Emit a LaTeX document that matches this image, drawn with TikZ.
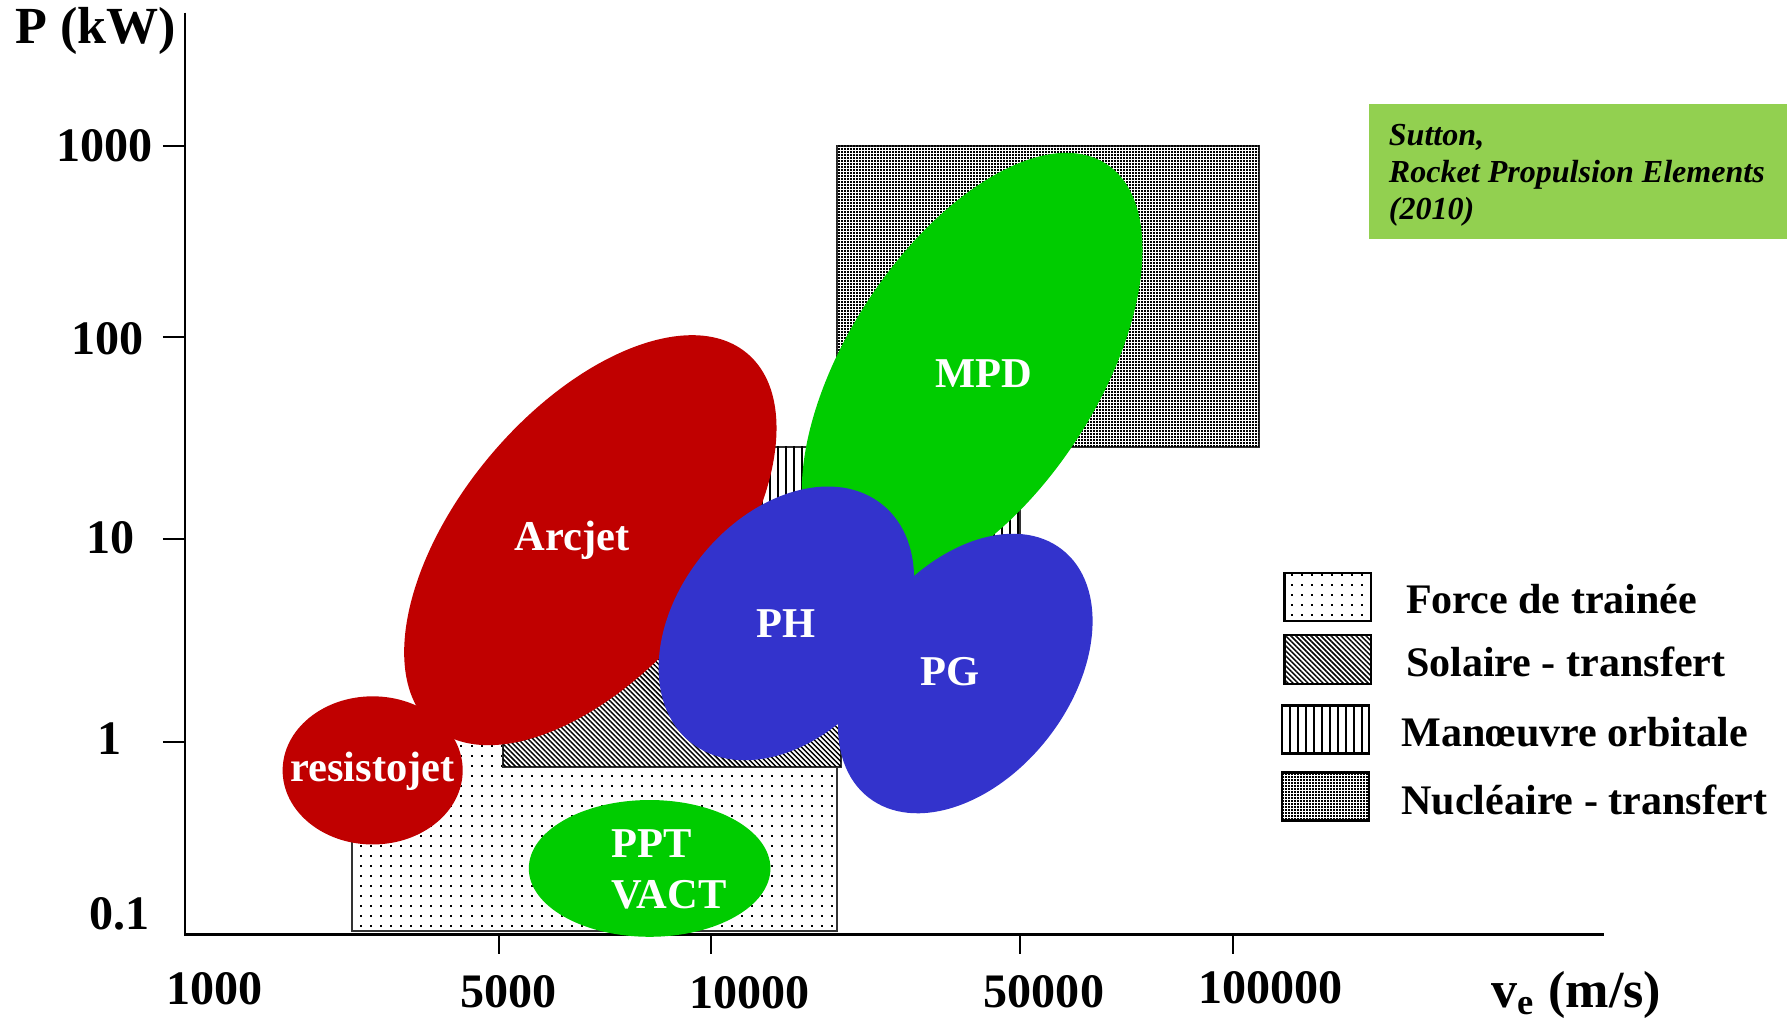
\documentclass[tikz,border=0pt]{standalone}
\usepackage{fontspec}
\setmainfont{Liberation Serif}
\usepackage{tikz}
\usetikzlibrary{patterns}

\definecolor{rouge}{RGB}{192,0,0}
\definecolor{vert}{RGB}{0,204,0}
\definecolor{bleu}{RGB}{51,51,204}
\definecolor{vertclair}{RGB}{146,208,80}

\pgfdeclarepatternformonly{sparse dots}{\pgfqpoint{-1pt}{-1pt}}{\pgfqpoint{2pt}{2pt}}{\pgfqpoint{2.4978pt}{2.4978pt}}{%
	\pgfpathrectangle{\pgfqpoint{0pt}{0pt}}{\pgfqpoint{0.4996pt}{0.4996pt}}\pgfusepath{fill}}
\pgfdeclarepatternformonly{dense dots}{\pgfqpoint{-1pt}{-1pt}}{\pgfqpoint{2pt}{2pt}}{\pgfqpoint{0.7493pt}{0.7493pt}}{%
	\pgfpathrectangle{\pgfqpoint{0pt}{0pt}}{\pgfqpoint{0.4996pt}{0.4996pt}}\pgfusepath{fill}}
\pgfdeclarepatternformonly{fine diagonal}{\pgfqpoint{-1pt}{-1pt}}{\pgfqpoint{2.5pt}{2.5pt}}{\pgfqpoint{1.2489pt}{1.2489pt}}{%
	\pgfsetlinewidth{0.36pt}\pgfpathmoveto{\pgfqpoint{0pt}{1.2489pt}}\pgfpathlineto{\pgfqpoint{1.2489pt}{0pt}}\pgfusepath{stroke}}
\pgfdeclarepatternformonly{fine vertical}{\pgfqpoint{-1pt}{-1pt}}{\pgfqpoint{2pt}{2pt}}{\pgfqpoint{1.9982pt}{1.9982pt}}{%
	\pgfsetlinewidth{0.4996pt}\pgfpathmoveto{\pgfqpoint{0.25pt}{-0.5pt}}\pgfpathlineto{\pgfqpoint{0.25pt}{2.5pt}}\pgfusepath{stroke}}

\begin{document}
\begin{tikzpicture}[x=0.01cm,y=-0.01cm,
		zone/.style={draw=black!80,line width=0.5pt,fill=white,postaction={pattern=#1}},
		echantillon/.style={draw=black,line width=0.6pt,pattern=#1},
		moteur/.style={text=white,font=\fontsize{10.6}{12.8}\selectfont\bfseries},
		valeur/.style={font=\fontsize{12}{14}\selectfont\bfseries},
		titre/.style={font=\fontsize{13}{15}\selectfont\bfseries},
		legende/.style={anchor=base west,inner sep=0pt,font=\fontsize{10.5}{12}\selectfont\bfseries}]
		\useasboundingbox (0,0) rectangle (1568,901);
		\draw[zone=dense dots] (734,128) rectangle (1105,392);
		\draw[zone=fine vertical] (660,392) rectangle (895,520);
		\draw[zone=sparse dots] (309,648) rectangle (734,817);
		\draw[zone=fine diagonal] (441,540) rectangle (738,673);
		\draw[line width=0.55pt] (162,11) -- (162,820) -- (1407,820);
		\foreach \y in {128,296,473,651} \draw[line width=0.55pt] (143,\y) -- (163,\y);
		\foreach \x in {438,624,895,1082} \draw[line width=0.55pt] (\x,820) -- (\x,837);
		\node[titre] (puissance) at (84,27) {P (kW)};
		\node[titre] (vitesse) at (1383,873) {v\textsubscript{e} (m/s)};
		\node[valeur] (p1000) at (92,128) {1000};
		\node[valeur] (p100) at (94,297) {100};
		\node[valeur] (p10) at (97,472) {10};
		\node[valeur] (p1) at (96,648) {1};
		\node[valeur] (p01) at (105,802) {0.1};
		\node[valeur] (v1000) at (188,868) {1000};
		\node[valeur] (v5000) at (446,870) {5000};
		\node[valeur] (v10000) at (658,871) {10000};
		\node[valeur] (v50000) at (916,870) {50000};
		\node[valeur] (v100000) at (1115,867) {100000};
		\fill[rouge] (327,676) ellipse [x radius=79,y radius=65];
		\fill[rouge,rotate around={50:(518,474)}] (518,474) ellipse [x radius=214,y radius=115];
		\fill[vert,rotate around={57:(853,325)}] (853,325) ellipse [x radius=216,y radius=110];
		\fill[bleu,rotate around={51:(690,547)}] (690,547) ellipse [x radius=134,y radius=95];
		\fill[bleu,rotate around={52:(847,591)}] (847,591) ellipse [x radius=138,y radius=92];
		\fill[vert] (570,762) ellipse [x radius=106,y radius=60];
		\node[moteur] (arcjet) at (502,474) {Arcjet};
		\node[moteur] (mpd) at (863,328) {MPD};
		\node[moteur] (ph) at (690,547) {PH};
		\node[moteur] (pg) at (834,589) {PG};
		\node[moteur] (resisto) at (327,677) {resistojet};
		\node[moteur,align=left] (ppt) at (587,763) {PPT\\VACT};
		\fill[vertclair] (1201,91) rectangle (1568,210);
		\node[anchor=north west,inner sep=0pt,align=left,font=\fontsize{8}{9.25}\selectfont\bfseries\itshape] (sutton) at (1218,108) {Sutton,\\Rocket Propulsion Elements\\(2010)};
		\draw[echantillon=sparse dots] (1127,503) rectangle (1203,545);
		\draw[echantillon=fine diagonal] (1127,557) rectangle (1203,600);
		\draw[echantillon=fine vertical] (1125,619) rectangle (1201,661);
		\draw[echantillon=dense dots] (1125,678) rectangle (1201,720);
		\node[legende] (force) at (1233,538) {Force de trainée};
		\node[legende] (solaire) at (1233,594) {Solaire - transfert};
		\node[legende] (manoeuvre) at (1229,655) {Manœuvre orbitale};
		\node[legende] (nucleaire) at (1229,715) {Nucléaire - transfert};
	\end{tikzpicture}
\end{document}
